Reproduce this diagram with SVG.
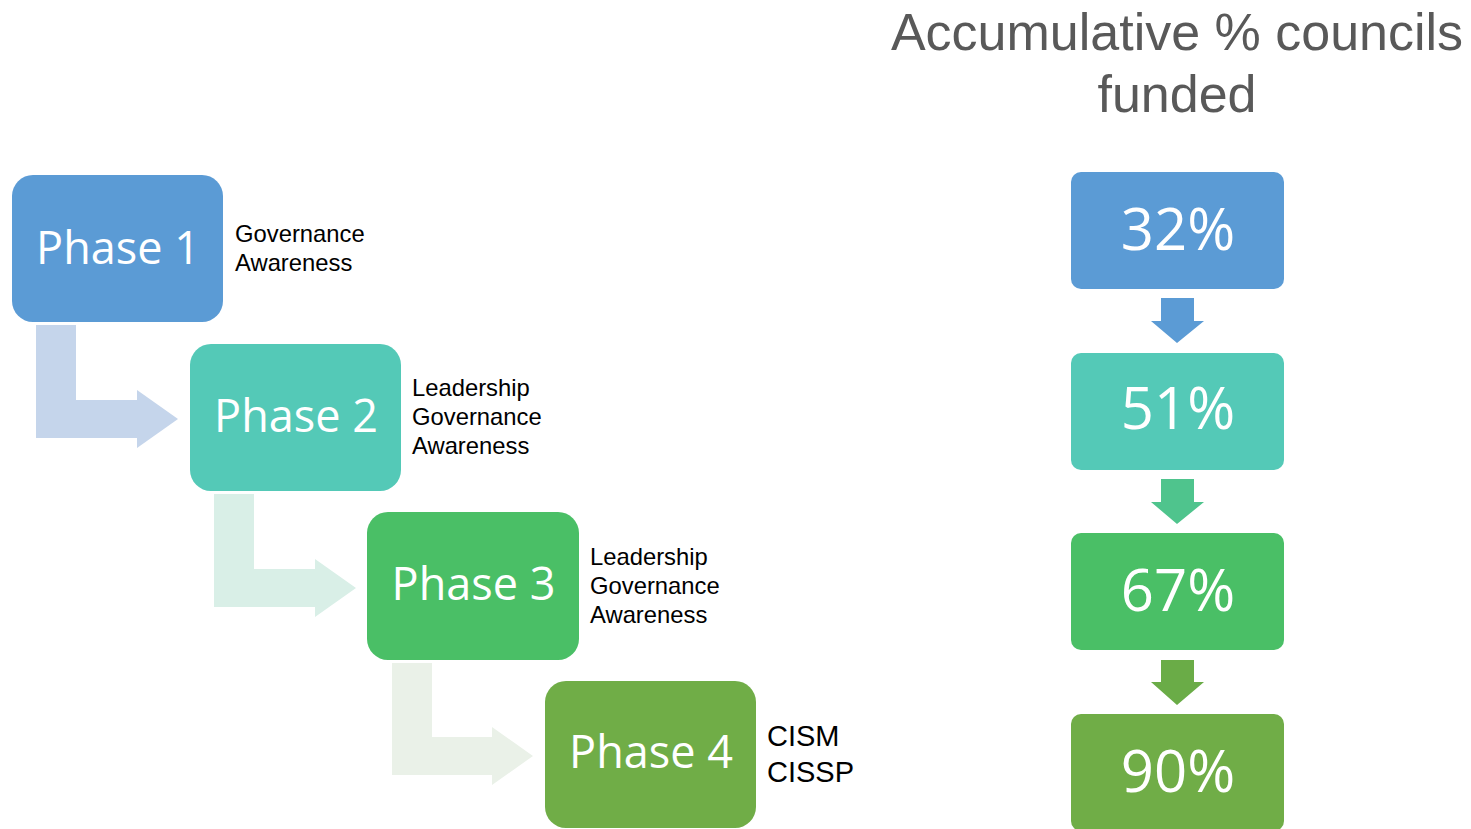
<svg xmlns="http://www.w3.org/2000/svg" width="1471" height="829" viewBox="0 0 1471 829">
<style>
.phase{font-family:"Open Sans","Noto Sans",sans-serif;font-size:45px;fill:#fff;text-anchor:middle}
.pct{font-family:"Open Sans","Noto Sans",sans-serif;font-size:58px;fill:#fff;text-anchor:middle}
.lbl{font-family:"Liberation Sans",Arial,sans-serif;font-size:23.8px;fill:#000}
.lbl2{font-family:"Liberation Sans",Arial,sans-serif;font-size:29px;fill:#000}
.title{font-family:"Liberation Sans",Arial,sans-serif;font-size:52px;fill:#595959;text-anchor:middle}
</style>
<rect width="1471" height="829" fill="#fff"/>
<g id="connectors">
<path d="M36,325 H76 V400 H137 V390 L178,419 L137,448 V438 H36 Z" fill="#c5d5eb"/>
<path d="M214,494 H254 V569 H315 V559 L356,588 L315,617 V607 H214 Z" fill="#d9efe7"/>
<path d="M392,663 H432 V737 H492 V727 L533,756 L492,785 V775 H392 Z" fill="#eaf1e8"/>
<path d="M1161,298 H1194 V321 H1204 L1177,343 L1151,321 H1161 Z" fill="#5b9bd5"/>
<path d="M1161,479 H1194 V502 H1204 L1177,524 L1151,502 H1161 Z" fill="#4fc48d"/>
<path d="M1161,660 H1194 V682 H1204 L1177,705 L1151,682 H1161 Z" fill="#6aac47"/>
</g>
<g id="phase1"><rect x="12" y="175" width="211" height="147" rx="21" fill="#5b9bd5"/><text class="phase" x="118" y="264">Phase 1</text></g>
<g id="phase2"><rect x="190" y="344" width="211" height="147" rx="21" fill="#54c9b7"/><text class="phase" x="296" y="432">Phase 2</text></g>
<g id="phase3"><rect x="367" y="512" width="212" height="148" rx="21" fill="#4abf66"/><text class="phase" x="473.5" y="600">Phase 3</text></g>
<g id="phase4"><rect x="545" y="681" width="211" height="147" rx="21" fill="#70ad47"/><text class="phase" x="651" y="768">Phase 4</text></g>
<g id="label1"><text class="lbl" x="235" y="242">Governance</text><text class="lbl" x="235" y="271">Awareness</text></g>
<g id="label2"><text class="lbl" x="412" y="396">Leadership</text><text class="lbl" x="412" y="425">Governance</text><text class="lbl" x="412" y="454">Awareness</text></g>
<g id="label3"><text class="lbl" x="590" y="565">Leadership</text><text class="lbl" x="590" y="594">Governance</text><text class="lbl" x="590" y="623">Awareness</text></g>
<g id="label4"><text class="lbl2" x="767" y="746">CISM</text><text class="lbl2" x="767" y="782">CISSP</text></g>
<g id="title"><text class="title" x="1177" y="50">Accumulative % councils</text><text class="title" x="1177" y="112">funded</text></g>
<g id="pct32"><rect x="1071" y="172" width="213" height="117" rx="10" fill="#5b9bd5"/><text class="pct" x="1178" y="250">32%</text></g>
<g id="pct51"><rect x="1071" y="353" width="213" height="117" rx="10" fill="#54c9b7"/><text class="pct" x="1178" y="429">51%</text></g>
<g id="pct67"><rect x="1071" y="533" width="213" height="117" rx="10" fill="#4abf66"/><text class="pct" x="1178" y="611">67%</text></g>
<g id="pct90"><rect x="1071" y="714" width="213" height="117" rx="10" fill="#70ad47"/><text class="pct" x="1178" y="792">90%</text></g>
</svg>
